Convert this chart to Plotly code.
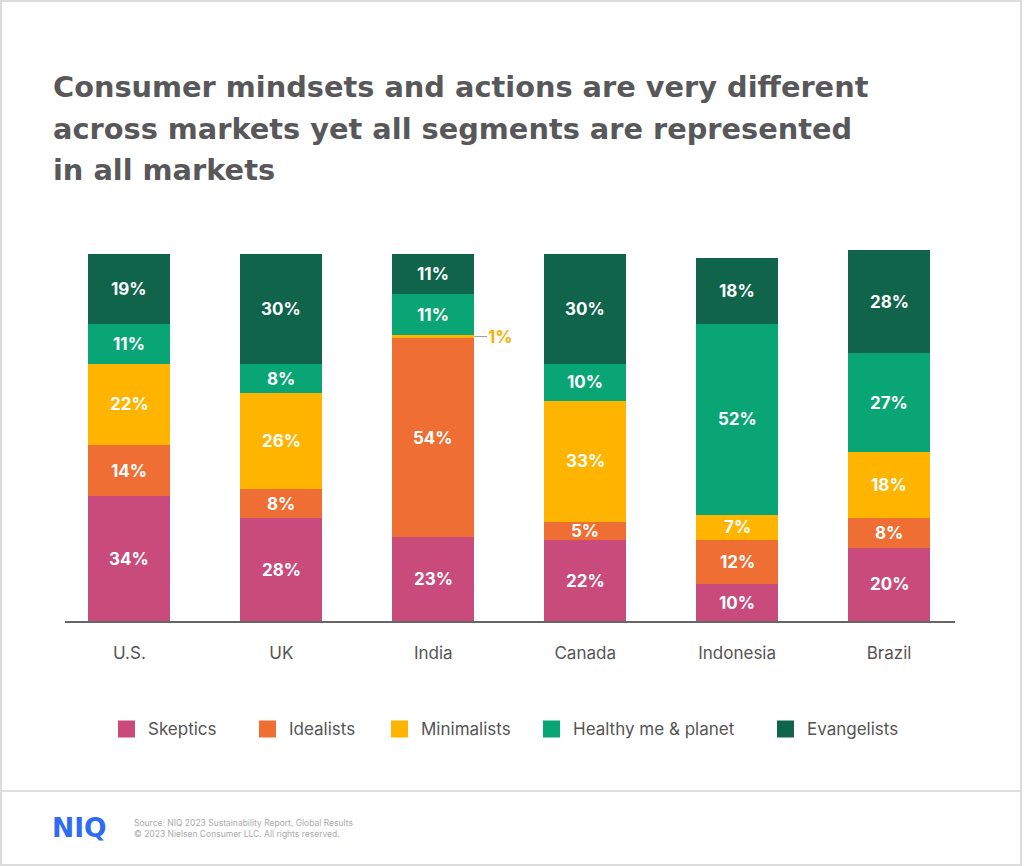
import plotly.graph_objects as go

# ---------------- data ----------------
countries = ["U.S.", "UK", "India", "Canada", "Indonesia", "Brazil"]
skeptics = [34, 28, 23, 22, 10, 20]
idealists = [14, 8, 54, 5, 12, 8]
minimalists = [22, 26, 1, 33, 7, 18]
healthy = [11, 8, 11, 10, 52, 27]
evangelists = [19, 30, 11, 30, 18, 28]
segment_names = ["Skeptics", "Idealists", "Minimalists", "Healthy me & planet", "Evangelists"]
segment_values = [skeptics, idealists, minimalists, healthy, evangelists]
segment_colors = ["#c94b7b", "#ee6e33", "#ffb400", "#0aa574", "#0f644a"]

title_lines = [
    "Consumer mindsets and actions are very different",
    "across markets yet all segments are represented",
    "in all markets",
]
source_lines = [
    "Source: NIQ 2023 Sustainability Report, Global Results",
    "© 2023 Nielsen Consumer LLC. All rights reserved.",
]
logo_text = "NIQ"

# ---------------- geometry helpers ----------------
W, H = 1024, 866
L, R, T, B = 65, 955, 246, 621
BAR_W = 0.54
FONT = "Inter, Roboto, sans-serif"
TITLE_FONT = "DejaVu Sans, Inter, sans-serif"


def px(x):
    return (x - L) / (R - L)


def py(y):
    return (B - y) / (B - T)


fig = go.Figure()

for name, vals, col in zip(segment_names, segment_values, segment_colors):
    fig.add_trace(go.Bar(
        x=countries, y=vals, name=name, marker=dict(color=col, line=dict(width=0)),
        width=BAR_W, showlegend=False, hoverinfo="x+y+name",
    ))

annotations = []
shapes = []

# labels inside segments
for i, c in enumerate(countries):
    base = 0
    for name, vals, col in zip(segment_names, segment_values, segment_colors):
        v = vals[i]
        mid = base + v / 2
        if v >= 3:
            annotations.append(dict(
                x=c, y=mid, xref="x", yref="y", text=f"<b>{v}%</b>", showarrow=False,
                font=dict(family=FONT, size=17, color="white"),
                xanchor="center", yanchor="middle",
            ))
        else:
            x_edge = i + BAR_W / 2
            shapes.append(dict(
                type="line", xref="x", yref="y", x0=x_edge, x1=x_edge + 0.085,
                y0=mid, y1=mid, line=dict(color="#9a9a9a", width=1),
            ))
            annotations.append(dict(
                x=x_edge + 0.085, y=mid, xref="x", yref="y", text=f"<b>{v}%</b>",
                showarrow=False, font=dict(family=FONT, size=17, color="#f6b100"),
                xanchor="left", yanchor="middle", xshift=-1,
            ))
        base += v

# title
title_centers = [87, 128.5, 170]
for line, yc in zip(title_lines, title_centers):
    annotations.append(dict(
        x=px(51), y=py(yc), xref="paper", yref="paper", text=f"<b>{line}</b>",
        showarrow=False, xanchor="left", yanchor="middle",
        font=dict(family=TITLE_FONT, size=28.8, color="#58585a"),
    ))

# custom legend
legend_sq_x = [118, 259, 391, 543, 777]
legend_y = 729
for name, col, sx in zip(segment_names, segment_colors, legend_sq_x):
    shapes.append(dict(
        type="rect", xref="paper", yref="paper",
        x0=px(sx), x1=px(sx + 17), y0=py(legend_y - 8.5), y1=py(legend_y + 8.5),
        fillcolor=col, line=dict(width=0),
    ))
    annotations.append(dict(
        x=px(sx + 28), y=py(legend_y), xref="paper", yref="paper", text=name,
        showarrow=False, xanchor="left", yanchor="middle",
        font=dict(family=FONT, size=17, color="#555555"),
    ))

# footer
shapes.append(dict(
    type="line", xref="paper", yref="paper", x0=px(2), x1=px(1021),
    y0=py(791), y1=py(791), line=dict(color="#d4d4d4", width=1.5),
))
shapes.append(dict(
    type="rect", xref="paper", yref="paper", x0=px(1), x1=px(1021),
    y0=py(1), y1=py(865), line=dict(color="#dcdcdc", width=2),
))
annotations.append(dict(
    x=px(50), y=py(827), xref="paper", yref="paper", text=f"<b>{logo_text}</b>",
    showarrow=False, xanchor="left", yanchor="middle",
    font=dict(family=TITLE_FONT, size=26.5, color="#2f6bf3"),
))
for line, yc in zip(source_lines, [823, 834]):
    annotations.append(dict(
        x=px(132), y=py(yc), xref="paper", yref="paper", text=line,
        showarrow=False, xanchor="left", yanchor="middle",
        font=dict(family=FONT, size=8.5, color="#ababab"),
    ))

fig.update_layout(
    width=W, height=H,
    margin=dict(l=L, r=W - R, t=T, b=H - B, pad=0),
    paper_bgcolor="white", plot_bgcolor="white",
    barmode="stack", bargap=0,
    annotations=annotations, shapes=shapes,
    showlegend=False,
    font=dict(family=FONT),
)
fig.update_xaxes(
    type="category", range=[-0.424, 5.434], showline=True, linecolor="#666666",
    linewidth=2, ticks="", showgrid=False, zeroline=False,
    tickfont=dict(family=FONT, size=17, color="#555555"), ticklabelstandoff=16,
)
fig.update_yaxes(range=[0, 102.18], visible=False, showgrid=False, zeroline=False)

fig.write_html(
    "out.html",
    config={"displayModeBar": False},
    post_script="document.body.style.margin='0';",
)
